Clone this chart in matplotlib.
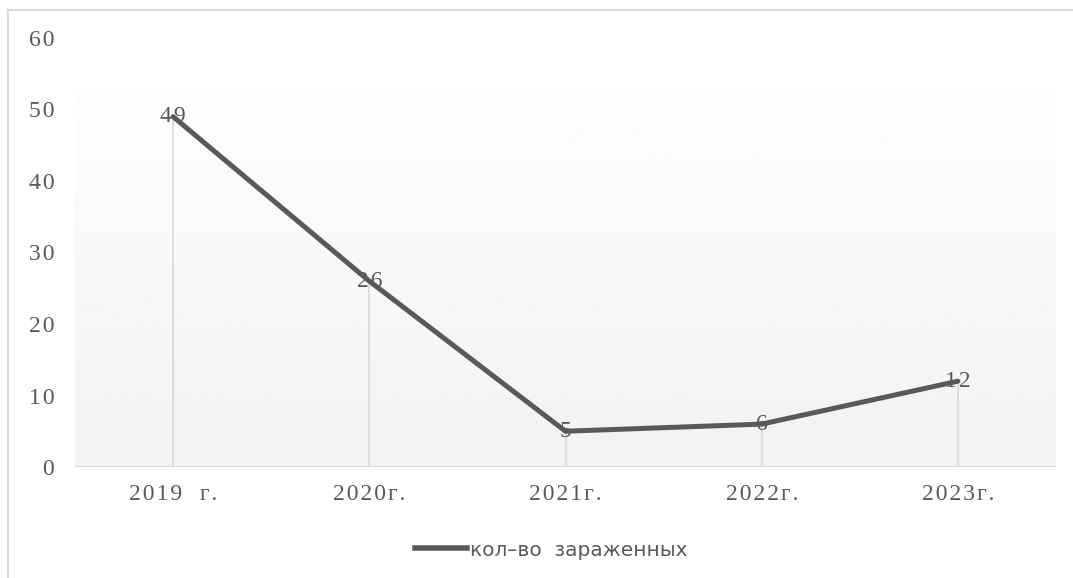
import numpy as np
import matplotlib.pyplot as plt
from matplotlib.lines import Line2D

years = ['2019  г.', '2020г.', '2021г.', '2022г.', '2023г.']
infected = [49, 26, 5, 6, 12]
yticks = [0, 10, 20, 30, 40, 50, 60]
series_name = 'кол–во  зараженных'

line_color = '#595959'
text_color = '#595959'
grid_color = '#d9d9d9'
serif = ['Liberation Serif', 'DejaVu Serif']


def spaced(s):
    # Excel-style letter spacing via hair spaces
    return '\u200a'.join(s)


fig = plt.figure(figsize=(10.73, 5.78), dpi=100)
ax = fig.add_axes([75 / 1073, 111 / 578, 981 / 1073, 429 / 578])

# outer chart border (top and left only visible)
fig.add_artist(Line2D([8 / 1073, 1.0], [1 - 10 / 578, 1 - 10 / 578],
                      color=grid_color, lw=1.5, transform=fig.transFigure))
fig.add_artist(Line2D([8 / 1073, 8 / 1073], [0, 1 - 10 / 578],
                      color=grid_color, lw=1.5, transform=fig.transFigure))

# gradient background of plot area
grad = np.linspace(0.993, 0.949, 256).reshape(-1, 1)
ax.imshow(grad, cmap='gray', vmin=0, vmax=1, aspect='auto',
          extent=[0, 1, 0, (467 - 88) / 429], transform=ax.transAxes, zorder=0)

x = np.arange(len(years))
ax.set_xlim(-0.5, len(years) - 0.5)
ax.set_ylim(0, 60)

# drop lines
ax.vlines(x, 0, infected, color=grid_color, lw=1.2, zorder=1)
ax.axhline(0, color=grid_color, lw=1.5, zorder=1)

ax.plot(x, infected, color=line_color, lw=3.6, solid_capstyle='round', zorder=3)

for xi, v in zip(x, infected):
    ax.text(xi, v, spaced(str(v)), ha='center', va='center', fontsize=17,
            family=serif, color=text_color, zorder=4)

for s in ax.spines.values():
    s.set_visible(False)

ax.set_xticks(x)
ax.set_xticklabels([spaced(y) for y in years], family=serif, fontsize=17,
                   color=text_color)
ax.set_yticks(yticks)
ax.set_yticklabels([spaced(str(t)) for t in yticks], family=serif,
                   fontsize=17, color=text_color)
ax.tick_params(axis='both', length=0)
ax.tick_params(axis='x', pad=12)
ax.tick_params(axis='y', pad=15)

leg = fig.legend([Line2D([0], [0], color=line_color, lw=4)], [series_name],
                 loc='center', bbox_to_anchor=(551 / 1073, 1 - 550 / 578),
                 frameon=False, fontsize=14.5, handlelength=2.6,
                 handletextpad=0.15)
for t in leg.get_texts():
    t.set_color(text_color)

fig.savefig('out.png', dpi=100)
